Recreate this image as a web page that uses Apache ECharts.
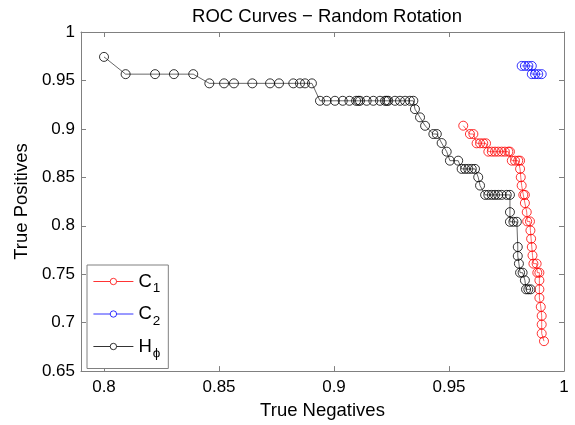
<!DOCTYPE html>
<html>
<head>
<meta charset="utf-8">
<script src="https://cdn.jsdelivr.net/npm/echarts@6/dist/echarts.min.js"></script>
<style>html,body{margin:0;padding:0;background:#fff;}#chart{width:575px;height:425px;}</style>
</head>
<body>
<div id="chart"></div>
<script>
// ---- Data ----
var seriesNames = ['C1', 'C2', 'Hphi'];
var xTicks = [0.8, 0.85, 0.9, 0.95, 1];
var yTicks = [0.65, 0.7, 0.75, 0.8, 0.85, 0.9, 0.95, 1];

var c1X = [0.9562, 0.9591, 0.9606, 0.9620, 0.9635, 0.9649, 0.9661, 0.9671, 0.9686, 0.9700, 0.9714, 0.9729, 0.9743, 0.9758, 0.9765,
           0.9773, 0.9787, 0.9801, 0.9809, 0.9809, 0.9812, 0.9816, 0.9823, 0.9830, 0.9830, 0.9838, 0.9840, 0.9852, 0.9854, 0.9857,
           0.9860, 0.9863, 0.9867, 0.9881, 0.9884, 0.9893, 0.9893, 0.9893, 0.9893, 0.9899, 0.9903, 0.9903, 0.9903, 0.9913];
var c1Y = [0.9033, 0.8947, 0.8947, 0.8851, 0.8851, 0.8851, 0.8851, 0.8765, 0.8765, 0.8765, 0.8765, 0.8765, 0.8765, 0.8765, 0.8765,
           0.8672, 0.8672, 0.8672, 0.8672, 0.8587, 0.8501, 0.8415, 0.8319, 0.8319, 0.8234, 0.8141, 0.8045, 0.8045, 0.7952, 0.7866,
           0.7781, 0.7694, 0.7609, 0.7609, 0.7516, 0.7516, 0.7437, 0.7344, 0.7256, 0.7163, 0.7070, 0.6981, 0.6888, 0.6809];

var c2X = [0.9816, 0.9830, 0.9845, 0.9860, 0.9860, 0.9874, 0.9888, 0.9903];
var c2Y = [0.9650, 0.9650, 0.9650, 0.9650, 0.9565, 0.9565, 0.9565, 0.9565];

var hX = [0.8000, 0.8094, 0.8222, 0.8304, 0.8388, 0.8458, 0.8522, 0.8565, 0.8645, 0.8722, 0.8761, 0.8823, 0.8852, 0.8874, 0.8904,
          0.8939, 0.8968, 0.9004, 0.9038, 0.9067, 0.9096, 0.9106, 0.9113, 0.9142, 0.9171, 0.9200, 0.9222, 0.9229, 0.9236, 0.9265,
          0.9287, 0.9309, 0.9330, 0.9345, 0.9352, 0.9374, 0.9396, 0.9432, 0.9447, 0.9468, 0.9490, 0.9504, 0.9540, 0.9555, 0.9570,
          0.9584, 0.9599, 0.9613, 0.9627, 0.9635, 0.9657, 0.9671, 0.9686, 0.9700, 0.9714, 0.9729, 0.9751, 0.9765, 0.9765, 0.9765,
          0.9780, 0.9795, 0.9799, 0.9799, 0.9804, 0.9809, 0.9820, 0.9830, 0.9835, 0.9845, 0.9855];
var hY = [0.9743, 0.9565, 0.9565, 0.9565, 0.9565, 0.9470, 0.9470, 0.9470, 0.9470, 0.9470, 0.9470, 0.9470, 0.9470, 0.9470, 0.9470,
          0.9290, 0.9290, 0.9290, 0.9290, 0.9290, 0.9290, 0.9290, 0.9290, 0.9290, 0.9290, 0.9290, 0.9290, 0.9290, 0.9290, 0.9290,
          0.9290, 0.9290, 0.9290, 0.9290, 0.9204, 0.9119, 0.9032, 0.8947, 0.8947, 0.8854, 0.8765, 0.8672, 0.8672, 0.8587, 0.8587,
          0.8587, 0.8587, 0.8587, 0.8501, 0.8415, 0.8319, 0.8319, 0.8319, 0.8319, 0.8319, 0.8319, 0.8319, 0.8319, 0.8141, 0.8041,
          0.8041, 0.8041, 0.7781, 0.7688, 0.7609, 0.7516, 0.7516, 0.7437, 0.7344, 0.7344, 0.7344];

function pairs(xs, ys) { return xs.map(function (x, i) { return [x, ys[i]]; }); }

var FONT = '"Liberation Sans", Arial, sans-serif';
var AX = '#808080';

var chart = echarts.init(document.getElementById('chart'), null, {renderer: 'canvas'});

function mkSeries(name, xs, ys, color) {
  return {
    name: name, type: 'line', data: pairs(xs, ys),
    symbol: 'circle', symbolSize: 9, showAllSymbol: true,
    lineStyle: {color: color, width: 0.6},
    itemStyle: {color: 'rgba(255,255,255,0)', borderColor: color, borderWidth: 0.8},
    emphasis: {disabled: true},
    animation: false
  };
}

var legendLabels = {C1: '{m|C}{s|1}', C2: '{m|C}{s|2}', Hphi: '{m|H}{s|ϕ}'};

chart.setOption({
  animation: false,
  backgroundColor: '#fff',
  title: {
    text: 'ROC Curves − Random Rotation',
    left: 322, top: 2, textAlign: 'center',
    textStyle: {fontFamily: FONT, fontSize: 18.5, fontWeight: 'normal', color: '#000'}
  },
  grid: {left: 81, right: 11, top: 32, bottom: 52},
  legend: {
    orient: 'vertical', left: 87, top: 265,
    padding: [7, 8, 8, 6], itemGap: 9,
    itemWidth: 40, itemHeight: 8,
    backgroundColor: '#fff', borderColor: AX, borderWidth: 1, borderRadius: 0,
    data: seriesNames,
    itemStyle: {color: '#fff', borderWidth: 0.8},
    lineStyle: {width: 0.8},
    formatter: function (n) { return legendLabels[n]; },
    textStyle: {
      fontFamily: FONT, color: '#000',
      rich: {
        m: {fontFamily: FONT, fontSize: 18.5, color: '#000'},
        s: {fontFamily: FONT, fontSize: 13.5, color: '#000', padding: [14, 0, 0, 1]}
      }
    }
  },
  xAxis: [{
    type: 'value', min: 0.79, max: 1,
    name: 'True Negatives', nameLocation: 'middle', nameGap: 27,
    nameTextStyle: {fontFamily: FONT, fontSize: 18.5, color: '#000'},
    axisLine: {show: true, onZero: false, lineStyle: {color: AX, width: 1}},
    axisTick: {show: true, inside: true, length: 5, customValues: xTicks, lineStyle: {color: AX}},
    axisLabel: {show: true, customValues: xTicks, margin: 8, fontFamily: FONT, fontSize: 17, color: '#000'},
    splitLine: {show: false}
  }, {
    type: 'value', min: 0.79, max: 1, position: 'top',
    axisLine: {show: true, onZero: false, lineStyle: {color: AX, width: 1}},
    axisTick: {show: true, inside: true, length: 5, customValues: xTicks, lineStyle: {color: AX}},
    axisLabel: {show: false}, splitLine: {show: false}
  }],
  yAxis: [{
    type: 'value', min: 0.65, max: 1, interval: 0.05,
    name: 'True Positives', nameLocation: 'middle', nameGap: 48,
    nameTextStyle: {fontFamily: FONT, fontSize: 18.5, color: '#000'},
    axisLine: {show: true, onZero: false, lineStyle: {color: AX, width: 1}},
    axisTick: {show: true, inside: true, length: 5, lineStyle: {color: AX}},
    axisLabel: {show: true, margin: 6, fontFamily: FONT, fontSize: 17, color: '#000'},
    splitLine: {show: false}
  }, {
    type: 'value', min: 0.65, max: 1, interval: 0.05, position: 'right',
    axisLine: {show: true, onZero: false, lineStyle: {color: AX, width: 1}},
    axisTick: {show: true, inside: true, length: 5, lineStyle: {color: AX}},
    axisLabel: {show: false}, splitLine: {show: false}
  }],
  series: [
    mkSeries('C1', c1X, c1Y, '#ff0000'),
    mkSeries('C2', c2X, c2Y, '#0000ff'),
    mkSeries('Hphi', hX, hY, '#000000')
  ]
});
</script>
</body>
</html>
